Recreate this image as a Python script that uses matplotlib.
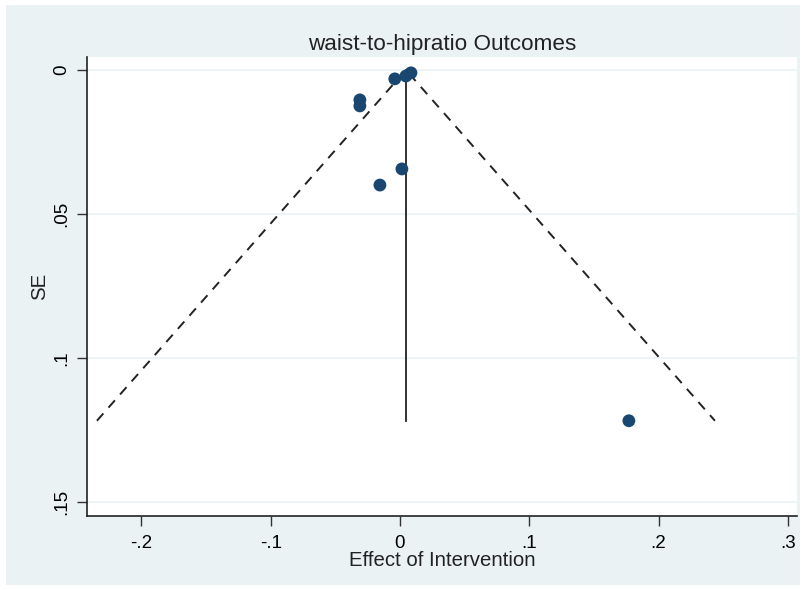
import matplotlib
matplotlib.use("Agg")
import matplotlib.pyplot as plt
from matplotlib.patches import Rectangle
import numpy as np

effect = [0.0085, 0.0046, -0.004, -0.031, -0.031, 0.0015, -0.0155, 0.177]
se = [0.0010, 0.0021, 0.0031, 0.0104, 0.0125, 0.0344, 0.0400, 0.1219]
pooled = 0.0046
xticks = [-0.2, -0.1, 0, 0.1, 0.2, 0.3]
xticklabels = ["-.2", "-.1", "0", ".1", ".2", ".3"]
yticks = [0, 0.05, 0.1, 0.15]
yticklabels = ["0", ".05", ".1", ".15"]

plt.rcParams['font.family'] = ['Liberation Sans', 'DejaVu Sans']
W, H = 805, 590
fig = plt.figure(figsize=(W/100, H/100), dpi=100, facecolor='white')
bg = '#EAF2F3'
fig.patches.append(Rectangle((6/W, 5/H), (800-6)/W, (585-5)/H, transform=fig.transFigure,
                             facecolor=bg, edgecolor='none', zorder=-10))

ax = fig.add_axes([87/W, 1-516/H, (797-87)/W, (516-57)/H])
ax.set_facecolor('white')

maxse = max(se)
ax.plot([pooled, pooled], [0, maxse], color='#222222', lw=1.3, zorder=2)
ax.plot([pooled - 1.96*maxse, pooled, pooled + 1.96*maxse], [maxse, 0, maxse],
        color='#222222', lw=1.4, ls=(0, (5, 4)), zorder=2)
ax.scatter(effect, se, s=85, color='#1A476F', zorder=3, edgecolors='none')

ax.set_xlim(-0.242, 0.307)
ax.set_ylim(0.155, -0.0045)
ax.set_xticks(xticks)
ax.set_xticklabels(xticklabels, fontsize=13.5)
ax.set_yticks(yticks)
ax.set_yticklabels(yticklabels, fontsize=13.5, rotation=90, va='center')
for y in yticks:
    ax.axhline(y, color=bg, lw=1.2, zorder=0)
ax.tick_params(axis='both', direction='out', length=7, width=1, color='#333333')
ax.tick_params(axis='x', pad=7)
ax.tick_params(axis='y', pad=5)
for s in ['top', 'right']:
    ax.spines[s].set_visible(False)
for s in ['left', 'bottom']:
    ax.spines[s].set_color('#222222')
    ax.spines[s].set_linewidth(1.2)

ax.set_xlabel('Effect of Intervention', fontsize=14.7, labelpad=-1, color='#222222')
ax.set_ylabel('SE', fontsize=14.7, labelpad=3, color='#222222')
ax.set_title('waist-to-hipratio Outcomes', fontsize=16.2, pad=5, color='#222222')

fig.savefig('out.png', dpi=100, facecolor='white')
